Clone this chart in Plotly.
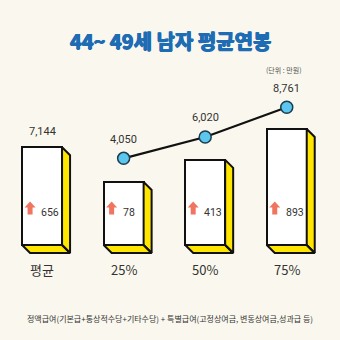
import plotly.graph_objects as go

# ---- data (만원) ----
categories = ["평균", "25%", "50%", "75%"]
annual_pay = [7144, 4050, 6020, 8761]
special_pay = [656, 78, 413, 893]
line_categories = ["25%", "50%", "75%"]
line_values = [4050, 6020, 8761]

title_text = "44~ 49세 남자 평균연봉"
unit_text = "(단위 : 만원)"
footer_text = "정액급여(기본급+통상적수당+기타수당) + 특별급여(고정상여금, 변동상여금,성과급 등)"

# ---- styling / geometry ----
W = H = 340
BG = "#FAF8EE"
YELLOW = "#FFE600"
OUTLINE = "#111111"
ARROW = "#F07560"
DOT = "#5CC6EE"
TITLE_BLUE = "#1D6CB4"
TEXT = "#333333"
FONT = "Roboto, 'Noto Sans CJK KR', sans-serif"
KFONT = "'Noto Sans CJK KR', sans-serif"

X_RANGE = [-0.516, 3.653]          # category index axis
PX_PER_X = W / (X_RANGE[1] - X_RANGE[0])
BASE = -1550                        # bar floor value
Y_RANGE = [-9994, 20228]
PX_PER_Y = H / (Y_RANGE[1] - Y_RANGE[0])
Y2_RANGE = [-12700, 18650]          # axis for the percentile line
BAR_W = 0.49
DEPTH = 8                           # extrusion depth in pixels

xs = list(range(len(categories)))
dx = DEPTH / PX_PER_X
dy = DEPTH / PX_PER_Y


def py(px):
    """Paper fraction for a pixel row measured from the top."""
    return 1 - px / H


fig = go.Figure()

# front faces of the boxes
fig.add_trace(go.Bar(
    x=xs, y=[v - BASE for v in annual_pay], base=BASE, width=BAR_W,
    marker=dict(color="white", line=dict(color=OUTLINE, width=2)),
    hoverinfo="skip", showlegend=False,
))

# yellow side and bottom faces
sx, sy = [], []
for i, v in zip(xs, annual_pay):
    xl, xr = i - BAR_W / 2, i + BAR_W / 2
    sx += [xr, xr + dx, xr + dx, xr, xr, None]
    sy += [v, v - dy, BASE - dy, BASE, v, None]
    sx += [xl, xr, xr + dx, xl + dx, xl, None]
    sy += [BASE, BASE, BASE - dy, BASE - dy, BASE, None]
fig.add_trace(go.Scatter(
    x=sx, y=sy, mode="lines", fill="toself", fillcolor=YELLOW,
    line=dict(color=OUTLINE, width=2), hoverinfo="skip", showlegend=False,
))

# percentile line
line_x = [categories.index(c) for c in line_categories]
fig.add_trace(go.Scatter(
    x=line_x, y=line_values, yaxis="y2", mode="lines+markers",
    line=dict(color=OUTLINE, width=2.2),
    marker=dict(size=12, color=DOT, line=dict(color="#1B3C4E", width=1.5)),
    hoverinfo="skip", showlegend=False,
))

annotations = []
shapes = []

# value above the average box
annotations.append(dict(
    x=0, y=annual_pay[0], xref="x", yref="y", yshift=16, text=f"{annual_pay[0]:,}",
    showarrow=False, yanchor="middle", font=dict(family=FONT, size=11, color=TEXT),
))
# values above line points
for x, v in zip(line_x, line_values):
    annotations.append(dict(
        x=x, y=v, xref="x", yref="y2", yshift=19, text=f"{v:,}",
        showarrow=False, yanchor="middle", font=dict(family=FONT, size=11, color=TEXT),
    ))

# special-pay labels with up arrows inside the boxes
arrow_path = "M0,6.5 L5.5,0.5 L2.5,0.5 L2.5,-6.5 L-2.5,-6.5 L-2.5,0.5 L-5.5,0.5 Z"
for i, s in zip(xs, special_pay):
    annotations.append(dict(
        x=i, y=py(212), xref="x", yref="paper", xshift=-3, xanchor="left",
        yanchor="middle", text=f"{s:,}", showarrow=False,
        font=dict(family=FONT, size=10.5, color=TEXT),
    ))
    shapes.append(dict(
        type="path", xref="x", yref="paper", xsizemode="pixel", ysizemode="pixel",
        xanchor=i - 12 / PX_PER_X, yanchor=py(208), path=arrow_path,
        fillcolor=ARROW, line=dict(width=0),
    ))

# category labels
for i, c in zip(xs, categories):
    annotations.append(dict(
        x=i, y=py(269), xref="x", yref="paper", text=c, showarrow=False,
        xanchor="center", yanchor="middle",
        font=dict(family=KFONT, size=13, color=TEXT),
    ))

# title, unit and footnote
annotations += [
    dict(x=0.5, y=py(40), xref="paper", yref="paper", text=f"<b>{title_text}</b>",
         xanchor="center", yanchor="middle", showarrow=False,
         font=dict(family=KFONT, size=20, color=TITLE_BLUE, weight=900,
                   shadow=f"0.6px 0 0 {TITLE_BLUE}, -0.6px 0 0 {TITLE_BLUE}, 0 0.5px 0 {TITLE_BLUE}")),
    dict(x=284 / W, y=py(70), xref="paper", yref="paper", text=unit_text,
         xanchor="center", yanchor="middle", showarrow=False,
         font=dict(family=KFONT, size=7, color="#555555")),
    dict(x=0.5, y=py(318), xref="paper", yref="paper", text=footer_text,
         xanchor="center", yanchor="middle", showarrow=False,
         font=dict(family=KFONT, size=8, color=TEXT)),
]

fig.update_layout(
    width=W, height=H, margin=dict(l=0, r=0, t=0, b=0),
    paper_bgcolor=BG, plot_bgcolor=BG,
    xaxis=dict(range=X_RANGE, visible=False, fixedrange=True),
    yaxis=dict(range=Y_RANGE, visible=False, fixedrange=True),
    yaxis2=dict(range=Y2_RANGE, visible=False, overlaying="y", fixedrange=True),
    annotations=annotations, shapes=shapes, bargap=0,
)

fig.write_html("out.html", config={"displayModeBar": False})
